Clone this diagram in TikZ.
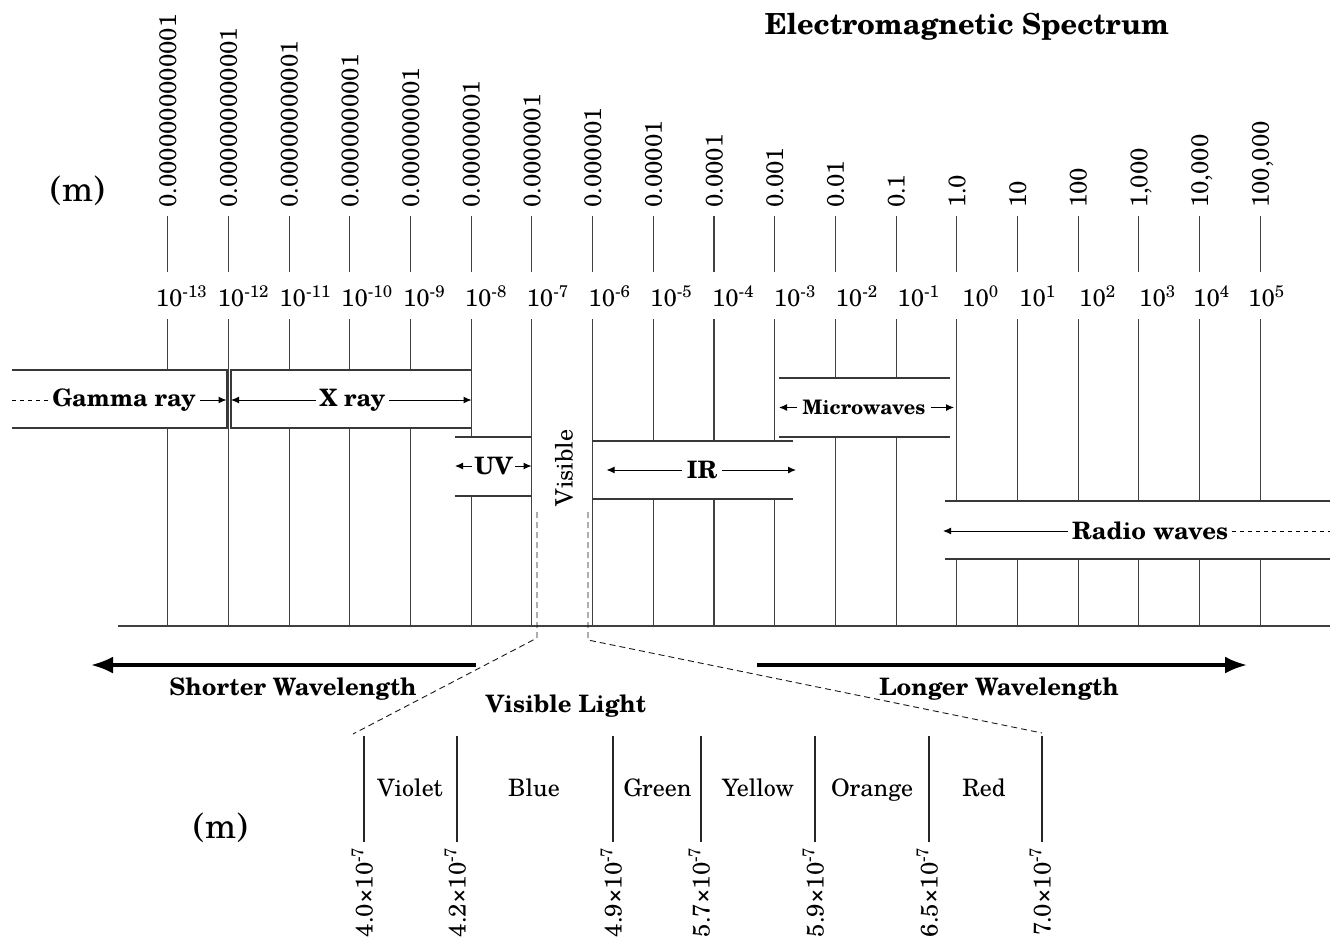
\documentclass[tikz,border=0pt]{standalone}
\usepackage{fontspec}
\setmainfont{TeX Gyre Schola}
\usetikzlibrary{arrows.meta}
\begin{document}
\begin{tikzpicture}[x=1pt,y=-1pt,
  every node/.style={inner sep=0pt, font=\fontsize{24}{28}\selectfont},
  tickline/.style={line width=1.15pt, draw=black!75},
  edgeline/.style={line width=1.15pt, draw=black!78},
  arr/.style={line width=1pt, -{Latex[length=8pt,width=7pt]}},
  bandlab/.style={font=\fontsize{24}{28}\selectfont\bfseries, inner xsep=4pt},
  dashline/.style={line width=0.9pt, dash pattern=on 4pt off 4pt},
  vdash/.style={line width=0.9pt, draw=black!90, dash pattern=on 6pt off 4pt},
  bigarr/.style={line width=3.3pt, -{Latex[length=22pt,width=17pt]}},
  boldlab/.style={font=\fontsize{24}{28}\selectfont\bfseries, anchor=base},
  rotlab/.style={rotate=90, text height=17pt, text depth=0pt}
]
\useasboundingbox (0,0) rectangle (1330,940);

% title and unit
\node[font=\fontsize{29}{34}\selectfont\bfseries] (title) at (967,27) {Electromagnetic Spectrum};
\node[font=\fontsize{35}{40}\selectfont] (unitTop) at (78,191) {(m)};

% top labels and short ticks
\foreach \k/\lab in {0/0.0000000000001, 1/0.000000000001, 2/0.00000000001, 3/0.0000000001,
  4/0.000000001, 5/0.00000001, 6/0.0000001, 7/0.000001, 8/0.00001, 9/0.0001, 10/0.001,
  11/0.01, 12/0.1, 13/1.0, 14/10, 15/100, 16/{1,000}, 17/{10,000}, 18/{100,000}}{
  \pgfmathsetmacro\xx{167.7+60.7*\k}
  \node[rotlab, anchor=west] (top\k) at (\xx,208) {\lab};
  \draw[tickline] (\xx,216) coordinate (ta\k) -- (\xx,272) coordinate (tb\k);
}

% exponent labels
\foreach \k/\lx/\e in {0/155.6/-13, 1/217.4/-12, 2/279.2/-11, 3/341.0/-10, 4/402.8/-9,
  5/464.6/-8, 6/526.4/-7, 7/588.2/-6, 8/650.0/-5, 9/711.8/-4, 10/773.6/-3, 11/835.4/-2,
  12/897.2/-1, 13/962/0, 14/1019/1, 15/1079/2, 16/1139/3, 17/1193/4, 18/1248/5}{
  \node[anchor=base west] (exp\k) at (\lx,306.5) {10\textsuperscript{\e}};
}

% long ticks, interrupted by the bands
\foreach \k/\a/\b in {0/370/428, 2/370/428, 3/370/428, 4/370/428, 5/437/496,
  8/441/499, 9/441/499, 10/441/499, 11/378/437, 12/378/437,
  13/501/559, 14/501/559, 15/501/559, 16/501/559, 17/501/559, 18/501/559}{
  \pgfmathsetmacro\xx{167.7+60.7*\k}
  \draw[tickline] (\xx,319) -- (\xx,\a) (\xx,\b) -- (\xx,626);
}
\foreach \k in {1,6,7}{
  \pgfmathsetmacro\xx{167.7+60.7*\k}
  \draw[tickline] (\xx,319) -- (\xx,626);
}
\draw[tickline] (118,626) -- (1330,626);

% band boxes
\draw[edgeline] (12,370) -- (227,370) -- (227,428) -- (12,428);
\draw[edgeline] (471,370) -- (231,370) -- (231,428) -- (471,428);
\draw[edgeline] (455,437) -- (531,437) (455,496) -- (531,496);
\draw[edgeline] (592,441) -- (793,441) (592,499) -- (793,499);
\draw[edgeline] (779,378) -- (950,378) (779,437) -- (950,437);
\draw[edgeline] (945,501) -- (1330,501) (945,559) -- (1330,559);

% band labels and arrows
\node[bandlab] (gamma) at (124,400) {Gamma ray};
\coordinate (gL) at (12,400); \coordinate (gR) at (226.5,400);
\draw[dashline] (gL) -- (gamma.west);
\draw[arr] (gamma.east) -- (gR);

\node[bandlab] (xray) at (352.5,400) {X ray};
\coordinate (xL) at (231,400); \coordinate (xR) at (471.5,400);
\draw[arr] (xray.west) -- (xL);
\draw[arr] (xray.east) -- (xR);

\node[bandlab, inner xsep=2pt] (uv) at (493.5,466) {UV};
\coordinate (uL) at (455,466); \coordinate (uR) at (531.5,466);
\draw[arr] (uv.west) -- (uL);
\draw[arr] (uv.east) -- (uR);

\node[bandlab, inner xsep=5pt] (ir) at (702,470) {IR};
\coordinate (iL) at (606.5,470); \coordinate (iR) at (796,470);
\draw[arr] (ir.west) -- (iL);
\draw[arr] (ir.east) -- (iR);

\node[bandlab, font=\fontsize{20}{24}\selectfont\bfseries, inner xsep=5pt] (mw) at (864,407.5) {Microwaves};
\coordinate (mL) at (779,407.5); \coordinate (mR) at (954,407.5);
\draw[arr] (mw.west) -- (mL);
\draw[arr] (mw.east) -- (mR);

\node[bandlab] (radio) at (1150,531) {Radio waves};
\coordinate (rL) at (943,531); \coordinate (rR) at (1330,531);
\draw[arr] (radio.west) -- (rL);
\draw[dashline] (radio.east) -- (rR);

\node[rotate=90] (vis) at (564,468) {Visible};

% wavelength direction arrows
\coordinate (sA) at (476,665); \coordinate (sB) at (91,665);
\coordinate (lA) at (757,665); \coordinate (lB) at (1247,665);
\draw[bigarr] (sA) -- (sB);
\draw[bigarr] (lA) -- (lB);
\node[boldlab] (shorter) at (293,695) {Shorter Wavelength};
\node[boldlab] (longer) at (999,695) {Longer Wavelength};
\node[boldlab] (vislight) at (566,712) {Visible Light};

% visible light detail
\foreach \i/\x/\lab in {0/364/4.0, 1/457/4.2, 2/613/4.9, 3/701/5.7, 4/815/5.9, 5/929/6.5, 6/1042/7.0}{
  \draw[tickline, draw=black!85] (\x,736) coordinate (vt\i) -- (\x,842) coordinate (vb\i);
  \node[rotlab, anchor=east] (w\i) at (\x,847) {\lab×10\textsuperscript{-7}};
}
\coordinate (vl1) at (537,512); \coordinate (vl2) at (537,638); \coordinate (vl3) at (353,734);
\coordinate (vr1) at (588,512); \coordinate (vr2) at (588,640); \coordinate (vr3) at (1042,733);
\draw[vdash] (vl1) -- (vl2) -- (vl3);
\draw[vdash] (vr1) -- (vr2) -- (vr3);

\node[anchor=base] (violet) at (410,796) {Violet};
\node[anchor=base] (blue) at (534,796) {Blue};
\node[anchor=base] (green) at (657.5,796) {Green};
\node[anchor=base] (yellow) at (758,796) {Yellow};
\node[anchor=base] (orange) at (872,796) {Orange};
\node[anchor=base] (red) at (984,796) {Red};
\node[font=\fontsize{35}{40}\selectfont] (unitBot) at (221,828) {(m)};
\end{tikzpicture}
\end{document}
